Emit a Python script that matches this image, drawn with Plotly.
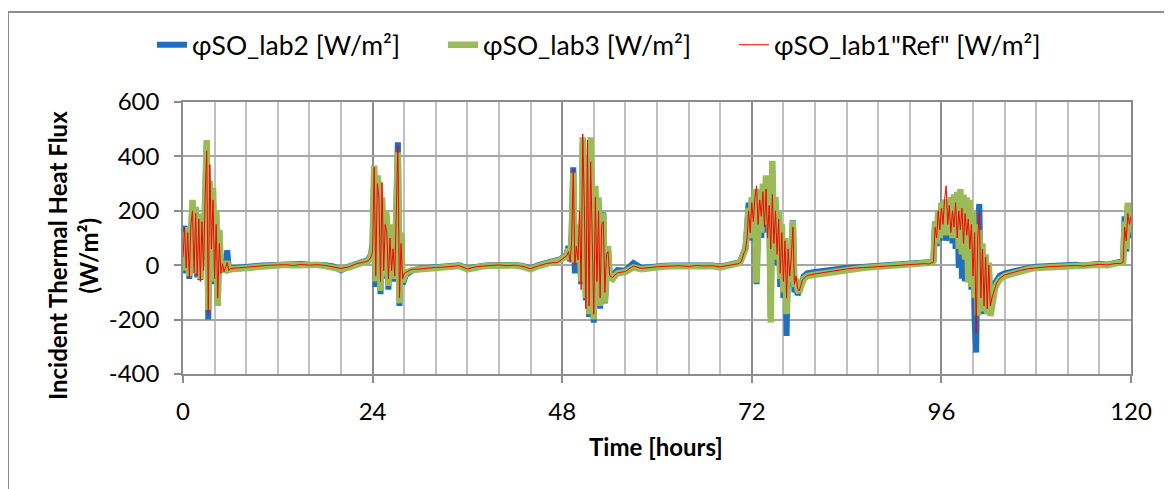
import plotly.graph_objects as go

# Time axis (hours): dense sampling in the daytime active windows, hourly at night
time_h = [
    0.0, 0.2, 0.4, 0.6, 0.8, 1.0, 1.2, 1.4, 1.6, 1.8, 2.0, 2.2, 2.4, 2.6, 2.8, 3.0, 3.2, 3.4, 3.6, 3.8,
    4.0, 4.2, 4.4, 4.6, 4.8, 5.0, 5.2, 5.4, 5.6, 5.8, 6.0,
    7, 8, 9, 10, 11, 12, 13, 14, 15, 16, 17, 18, 19, 20, 21, 22, 23,
    23.4, 23.6, 23.8, 24.0, 24.2, 24.4, 24.6, 24.8, 25.0, 25.2, 25.4, 25.6, 25.8, 26.0, 26.2, 26.4, 26.6,
    26.8, 27.0, 27.2, 27.4, 27.6, 27.8, 28.0, 28.2, 28.4, 28.6, 28.8, 29.0,
    30, 31, 32, 33, 34, 35, 36, 37, 38, 39, 40, 41, 42, 43, 44, 45, 46, 47,
    47.4, 47.6, 47.8, 48.0, 48.2, 48.4, 48.6, 48.8, 49.0, 49.2, 49.4, 49.6, 49.8, 50.0, 50.2, 50.4, 50.6,
    50.8, 51.0, 51.2, 51.4, 51.6, 51.8, 52.0, 52.2, 52.4, 52.6, 52.8, 53.0, 53.2, 53.4, 53.6, 53.8, 54.0,
    54.2, 54.4, 54.6, 54.8, 55.0,
    56, 57, 58, 59, 60, 61, 62, 63, 64, 65, 66, 67, 68, 69, 70,
    70.4, 70.6, 70.8, 71.0, 71.2, 71.4, 71.6, 71.8, 72.0, 72.2, 72.4, 72.6, 72.8, 73.0, 73.2, 73.4, 73.6,
    73.8, 74.0, 74.2, 74.4, 74.6, 74.8, 75.0, 75.2, 75.4, 75.6, 75.8, 76.0, 76.2, 76.4, 76.6, 76.8, 77.0,
    77.2, 77.4, 77.6, 77.8, 78.0, 78.2, 78.4, 78.6, 78.8, 79.0,
    80, 81, 82, 83, 84, 85, 86, 87, 88, 89, 90, 91, 92, 93, 94,
    94.4, 94.6, 94.8, 95.0, 95.2, 95.4, 95.6, 95.8, 96.0, 96.2, 96.4, 96.6, 96.8, 97.0, 97.2, 97.4, 97.6,
    97.8, 98.0, 98.2, 98.4, 98.6, 98.8, 99.0, 99.2, 99.4, 99.6, 99.8, 100.0, 100.2, 100.4, 100.6, 100.8,
    101.0, 101.2, 101.4, 101.6, 101.8, 102.0, 102.2, 102.4, 102.6, 102.8, 103.0, 103.2, 103.4,
    104, 105, 106, 107, 108, 109, 110, 111, 112, 113, 114, 115, 116, 117, 118,
    118.6, 118.8, 119.0, 119.2, 119.4, 119.6, 119.8, 120.0,
]

# φSO_lab2 [W/m²]  (blue)
lab2 = [
    35, 145, -30, 130, -50, 160, 230, 50, 205, -45, 180, -55, 110, 20, 290, 440, -200, 300, 90, 270,
    -70, 190, -145, 120, -25, 0, -20, -10, 55, -15, -12,
    -8, -5, -3, -1, 0, 2, 3, 1, 4, 2, 3, 0, -4, -18, -5, 8, 15,
    18, 25, 40, 80, 347, -80, 320, 280, -107, 240, -50, 190, 170, -90, 140, -40, 80,
    -60, 210, 452, -150, 110, -70, -45, -38, -32, -28, -24, -20,
    -12, -9, -7, -5, -3, 0, -12, -5, -2, 0, 2, -1, 1, -3, -12, 0, 8, 12,
    14, 18, 22, 28, 30, 32, 45, 70, 15, 120, 360, -30, 60, 30, 140, -70, 450,
    280, -130, 380, -190, 440, 130, -211, 270, -110, 230, -160, 170, 194, -140, 50, 60, -30,
    -35, -40, -30, -22, -18,
    -20, 8, -10, -6, -4, -2, -1, 0, -3, 0, -2, -1, -5, 0, 8,
    10, 18, 35, 55, 65, 140, 230, 90, 240, 140, 260, -70, 240, 250, 100, 270, 180,
    300, 120, 230, -190, 350, 80, 220, 0, 180, -80, 130, -120, 80, -260, 30, -80, 30,
    165, -100, -60, -110, -90, -70, -50, -40, -35, -30,
    -25, -20, -15, -12, -10, -8, -6, -5, -3, -2, -1, 0, 2, 4, 8,
    8, 10, 12, 18, 160, 70, 180, 90, 210, 100, 220, 90, 200, 110, 230, 80, 240,
    60, 230, -10, 250, -50, 220, -60, 210, -40, 200, -90, 180, -200, -321, 150, 225,
    -160, 60, -180, 20, -170, 0, -175, -120, -90, -65, -52, -44, -38,
    -30, -22, -15, -10, -6, -4, -2, -1, 0, 2, -1, 3, 5, 2, 8,
    10, 12, 15, 180, 50, 218, 100, 190,
]

# φSO_lab3 [W/m²]  (green)
lab3 = [
    40, 120, -20, 140, -40, 180, 240, 60, 215, -30, 190, -50, 120, 30, 300, 460, -165, 310, 100, 285,
    -60, 200, -150, 130, -20, 10, -25, -15, 15, -20, -15,
    -12, -8, -6, -3, -2, 0, 2, 0, 3, 1, 2, -2, -5, -15, -8, 5, 12,
    15, 20, 35, 60, 366, -60, 330, 292, -95, 250, -40, 200, 182, -76, 150, -30, 90,
    -50, 200, 415, -140, 120, -60, -35, -30, -25, -22, -20, -18,
    -15, -12, -10, -8, -6, -3, -15, -8, -4, -2, 0, -3, -1, -5, -15, -3, 5, 10,
    12, 15, 20, 25, 28, 30, 40, 60, 20, 100, 340, 10, 80, 40, 150, -60, 470,
    300, -120, 400, -180, 470, 150, -199, 292, -100, 250, -150, 180, 190, -137, 60, 71, -40,
    -45, -50, -42, -35, -30,
    -25, -8, -15, -10, -8, -5, -4, -3, -6, -2, -4, -3, -8, -2, 5,
    8, 15, 30, 50, 60, 120, 210, 100, 250, 150, 280, -64, 260, 280, 120, 300, 200,
    330, 150, 260, -211, 384, 100, 250, 20, 200, -50, 150, -100, 100, -180, 50, -60, 40,
    163, -80, -50, -90, -100, -80, -60, -50, -45, -40,
    -35, -30, -25, -20, -15, -12, -10, -8, -6, -5, -4, -2, 0, 2, 5,
    5, 8, 10, 15, 157, 80, 200, 100, 230, 120, 242, 110, 230, 130, 250, 100, 260,
    120, 270, 60, 280, 40, 260, 20, 250, -64, 240, -80, 200, -120, 150, -186, 130,
    -150, 80, -170, 40, -180, 10, -187, -140, -110, -85, -70, -60, -52,
    -40, -30, -22, -15, -10, -8, -6, -5, -3, -2, -4, 0, 2, 0, 5,
    8, 10, 12, 160, 60, 230, 120, 200,
]

# φSO_lab1"Ref" [W/m²]  (red)
lab1_ref = [
    30, 140, -10, 120, -45, 150, 200, -30, 190, -40, 170, -60, 160, -20, 250, 420, -180, 370, 60, 240,
    -50, 150, -120, 80, -30, 5, -25, -5, 10, -20, -12,
    -10, -7, -5, -2, 0, 1, 2, -1, 3, 0, 2, -1, -6, -12, -6, 6, 12,
    15, 22, 30, 50, 360, -40, 300, 250, -60, 304, -20, 150, 120, -50, 100, -20, 60,
    -40, 180, 440, -120, 80, -50, -30, -27, -22, -20, -17, -15,
    -14, -10, -8, -7, -5, -2, -14, -6, -3, -1, 1, -2, 0, -4, -13, -2, 6, 10,
    10, 14, 18, 22, 26, 28, 35, 50, 10, 90, 355, 0, 70, 20, 200, -90, 482,
    220, -160, 460, -150, 380, 100, -180, 250, -60, 200, -120, 150, 160, -100, 40, 50, -38,
    -42, -45, -38, -32, -28,
    -23, -3, -12, -8, -6, -4, -3, -2, -5, -1, -3, -2, -6, -1, 6,
    6, 12, 25, 45, 55, 100, 200, 120, 230, 160, 250, 292, 150, 240, 180, 270, 140,
    280, 100, 220, 60, 260, 80, 200, 40, 170, -30, 120, -60, 90, -120, 60, -40, 30,
    140, -70, -40, -85, -95, -75, -55, -48, -42, -38,
    -32, -27, -22, -18, -14, -11, -9, -7, -5, -4, -3, -1, 1, 3, 6,
    4, 7, 9, 12, 140, 100, 200, 130, 210, 150, 240, 292, 150, 220, 120, 200, 140,
    230, 100, 200, 130, 210, 80, 190, 110, 170, 60, 150, -40, 120, -250, 100, 200,
    -120, 60, -150, 30, -160, 0, -150, -120, -100, -78, -65, -56, -48,
    -36, -27, -19, -13, -9, -7, -5, -4, -2, -1, -3, 1, 3, 1, 6,
    6, 9, 10, 140, 90, 190, 150, 180,
]

series_names = ["φSO_lab2 [W/m²]", "φSO_lab3 [W/m²]", "φSO_lab1\"Ref\" [W/m²]"]
x_ticks = [0, 24, 48, 72, 96, 120]
y_ticks = [-400, -200, 0, 200, 400, 600]
y_tick_text = ["-400", "-200", "0", "200", "400", "600"]

FONT = "Lato"
OFF = 8  # page body margin
W, H = 1164, 481
# plot area in page pixels: x 183..1131, y 102..374
L, T = 183 - OFF, 102 - OFF
R, B = W - (1131 - OFF), H - (374 - OFF)
pw, ph = W - L - R, H - T - B

def px_x(p):
    return (p - OFF - L) / pw

def px_y(p):
    return (H - B - (p - OFF)) / ph

fig = go.Figure()
fig.add_trace(go.Scatter(x=time_h, y=lab2, mode="lines", name=series_names[0], legend="legend",
                         line=dict(color="#1F6FC0", width=6)))
fig.add_trace(go.Scatter(x=time_h, y=lab3, mode="lines", name=series_names[1], legend="legend2",
                         line=dict(color="#9BBB59", width=6.5)))
fig.add_trace(go.Scatter(x=time_h, y=lab1_ref, mode="lines", name=series_names[2], legend="legend3",
                         line=dict(color="#FF0000", width=1)))

def legend_at(page_x):
    return dict(orientation="h", x=px_x(page_x), y=px_y(45), xanchor="left", yanchor="middle",
                font=dict(family=FONT, size=26.5, color="#000000"), bgcolor="rgba(0,0,0,0)")

fig.update_layout(
    width=W, height=H,
    margin=dict(l=L, r=R, t=T, b=B, autoexpand=False),
    paper_bgcolor="white", plot_bgcolor="white",
    font=dict(family=FONT, color="#000000", size=22),
    showlegend=True,
    legend=legend_at(152),
    legend2=legend_at(443),
    legend3=legend_at(734),
    xaxis=dict(range=[0, 120], tickmode="array", tickvals=x_ticks,
               showgrid=True, gridcolor="#8C8C8C", gridwidth=1.5,
               minor=dict(dtick=4, showgrid=True, gridcolor="#C0C0C0", gridwidth=2),
               showline=True, linecolor="#8C8C8C", linewidth=1.5, mirror=True,
               ticks="outside", ticklen=7, tickcolor="#8C8C8C", tickwidth=1.5,
               ticklabelstandoff=8,
               tickfont=dict(family=FONT, size=24, color="#000000"),
               zeroline=False),
    yaxis=dict(range=[-400, 600], tickmode="array", tickvals=y_ticks, ticktext=y_tick_text,
               showgrid=True, gridcolor="#A6A6A6", gridwidth=2,
               showline=True, linecolor="#8C8C8C", linewidth=1.5, mirror=True,
               ticks="outside", ticklen=7, tickcolor="#8C8C8C", tickwidth=1.5,
               ticklabelstandoff=10,
               tickfont=dict(family=FONT, size=24, color="#000000"),
               zeroline=False),
)

fig.add_annotation(text="<b>Incident Thermal Heat Flux</b><br><b>(W/m²)</b>",
                   xref="paper", yref="paper", x=px_x(73), y=px_y(256),
                   xanchor="center", yanchor="middle", textangle=-90, showarrow=False,
                   font=dict(family=FONT, size=24, color="#000000"))
fig.add_annotation(text="<b>Time [hours]</b>",
                   xref="paper", yref="paper", x=px_x(656), y=px_y(446),
                   xanchor="center", yanchor="middle", showarrow=False,
                   font=dict(family=FONT, size=24, color="#000000"))

fig.add_shape(type="rect", xref="paper", yref="paper",
              x0=px_x(8), y0=px_y(520), x1=px_x(1200), y1=px_y(12),
              line=dict(color="#8C8C8C", width=2), fillcolor="rgba(0,0,0,0)", layer="below")

fig.write_html("out.html")
